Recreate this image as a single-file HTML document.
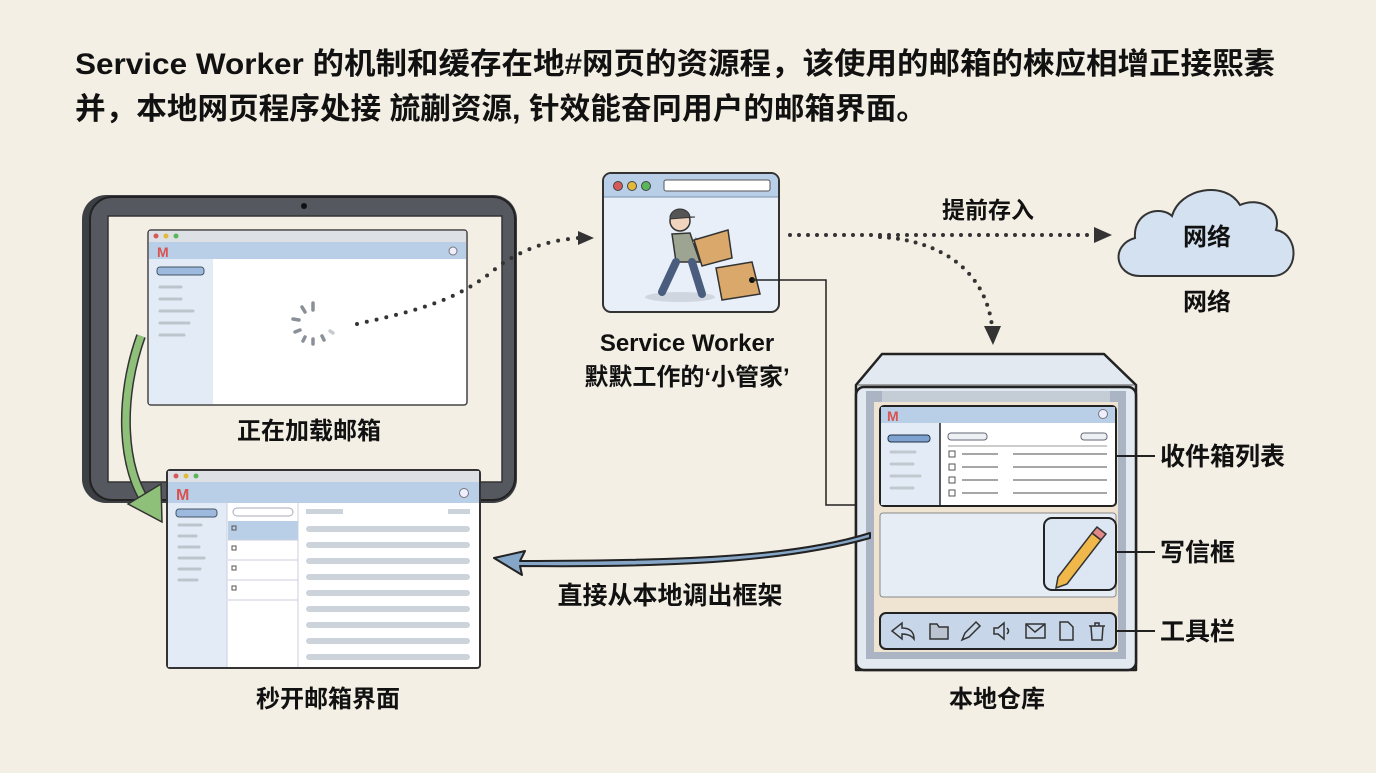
<!DOCTYPE html>
<html><head><meta charset="utf-8"><style>
html,body{margin:0;padding:0;background:#f4efe4;}
svg text{font-family:"Liberation Sans","Noto Sans CJK SC",sans-serif;fill:#111;font-weight:600;}
</style></head><body>
<svg width="1376" height="768" viewBox="0 0 1376 768" xmlns="http://www.w3.org/2000/svg">
<rect width="1376" height="768" fill="#f4efe4"/>
<text x="75" y="74" font-size="30" font-weight="bold" textLength="1200" lengthAdjust="spacingAndGlyphs" style="font-weight:bold">Service Worker 的机制和缓存在地#网页的资源程，该使用的邮箱的棶应相增正接熙素</text>
<text x="75" y="119" font-size="30" font-weight="bold" textLength="852" lengthAdjust="spacingAndGlyphs" style="font-weight:bold">并，本地网页程序处接 旈蒯资源, 针效能奋冋用户的邮箱界面。</text>

<!-- tablet -->
<rect x="82" y="195" width="435" height="308" rx="24" fill="#3c3f44"/>
<rect x="90" y="197" width="425" height="303" rx="22" fill="#55595f" stroke="#222" stroke-width="2"/>
<rect x="108" y="216" width="394" height="266" fill="#f4efe4" stroke="#333" stroke-width="1.5"/>
<circle cx="304" cy="206" r="3" fill="#111"/>

<!-- loading window -->
<rect x="148" y="230" width="319" height="175" rx="3" fill="#fff" stroke="#444" stroke-width="1.5"/>
<rect x="149" y="231" width="317" height="11" fill="#dde0e4"/>
<rect x="149" y="242" width="317" height="17" fill="#b9cfe8"/>
<rect x="149" y="259" width="64" height="145" fill="#e3ecf6"/>
<circle cx="156" cy="236" r="2.5" fill="#d65a5a"/><circle cx="166" cy="236" r="2.5" fill="#e2b93b"/><circle cx="176" cy="236" r="2.5" fill="#5bb55b"/>
<text x="157" y="257" font-size="14" style="fill:#d9534f;font-weight:bold">M</text>
<circle cx="453" cy="251" r="4" fill="#eef" stroke="#777"/>
<rect x="157" y="267" width="47" height="8" rx="3" fill="#9db9dd" stroke="#456" stroke-width="1"/>
<g stroke="#bcc4cc" stroke-width="3" stroke-linecap="round"><line x1="160" y1="287" x2="181" y2="287"/><line x1="160" y1="299" x2="181" y2="299"/><line x1="160" y1="311" x2="193" y2="311"/><line x1="160" y1="323" x2="189" y2="323"/><line x1="160" y1="335" x2="184" y2="335"/></g>
<g stroke="#8a9098" stroke-width="3.5" stroke-linecap="round"><line x1="313" y1="303" x2="313" y2="310"/><line x1="302" y1="307" x2="305" y2="312"/><line x1="293" y1="319" x2="299" y2="320"/><line x1="295" y1="332" x2="300" y2="330"/><line x1="303" y1="341" x2="305" y2="337"/><line x1="313" y1="344" x2="313" y2="339"/><line x1="324" y1="340" x2="322" y2="336"/><line x1="333" y1="333" x2="330" y2="331" stroke="#c8ccd0"/></g>
<text x="309" y="439" font-size="24" text-anchor="middle">正在加载邮箱</text>

<!-- dotted to SW -->
<path d="M357 324 C420 310 460 300 500 265 C530 245 555 240 578 238" fill="none" stroke="#333" stroke-width="4" stroke-dasharray="0 10" stroke-linecap="round"/>
<path d="M578 231 L594 238 L578 245 Z" fill="#333"/>

<!-- green arrow -->
<path d="M141 336 C118 400 122 470 148 505" fill="none" stroke="#333" stroke-width="10"/>
<path d="M141 336 C118 400 122 470 148 505" fill="none" stroke="#8fc07a" stroke-width="7"/>
<path d="M128 504 L162 522 L161 484 Z" fill="#8fc07a" stroke="#333" stroke-width="1.5"/>

<!-- second window -->
<rect x="167" y="470" width="313" height="198" rx="3" fill="#fff" stroke="#333" stroke-width="2"/>
<rect x="168" y="471" width="311" height="11" fill="#dde0e4"/>
<rect x="168" y="482" width="311" height="21" fill="#b9cfe8"/>
<rect x="168" y="503" width="59" height="164" fill="#e3ecf6"/>
<line x1="227" y1="503" x2="227" y2="667" stroke="#ccd"/><line x1="298" y1="503" x2="298" y2="667" stroke="#ccd"/>
<circle cx="176" cy="476" r="2.5" fill="#d65a5a"/><circle cx="186" cy="476" r="2.5" fill="#e2b93b"/><circle cx="196" cy="476" r="2.5" fill="#5bb55b"/>
<text x="176" y="500" font-size="16" style="fill:#d9534f;font-weight:bold">M</text>
<circle cx="464" cy="493" r="4.5" fill="#eef" stroke="#777"/>
<rect x="176" y="509" width="41" height="8" rx="3" fill="#9db9dd" stroke="#456"/>
<g stroke="#bcc4cc" stroke-width="3" stroke-linecap="round"><line x1="179" y1="525" x2="201" y2="525"/><line x1="179" y1="536" x2="196" y2="536"/><line x1="179" y1="547" x2="199" y2="547"/><line x1="179" y1="558" x2="204" y2="558"/><line x1="179" y1="569" x2="200" y2="569"/><line x1="179" y1="580" x2="197" y2="580"/></g>
<rect x="233" y="508" width="60" height="8" rx="4" fill="#fff" stroke="#aab"/>
<rect x="228" y="521" width="70" height="19" fill="#b9cfe8"/>
<g stroke="#ccd" stroke-width="1"><line x1="228" y1="540" x2="298" y2="540"/><line x1="228" y1="560" x2="298" y2="560"/><line x1="228" y1="580" x2="298" y2="580"/><line x1="228" y1="600" x2="298" y2="600"/></g>
<g fill="none" stroke="#555"><rect x="232" y="526" width="4" height="4"/><rect x="232" y="546" width="4" height="4"/><rect x="232" y="566" width="4" height="4"/><rect x="232" y="586" width="4" height="4"/></g>
<g fill="#cdd3da"><rect x="306" y="509" width="37" height="5"/><rect x="448" y="509" width="22" height="5"/><rect x="306" y="526" width="164" height="6" rx="3"/><rect x="306" y="542" width="164" height="6" rx="3"/><rect x="306" y="558" width="164" height="6" rx="3"/><rect x="306" y="574" width="164" height="6" rx="3"/><rect x="306" y="590" width="164" height="6" rx="3"/><rect x="306" y="606" width="164" height="6" rx="3"/><rect x="306" y="622" width="164" height="6" rx="3"/><rect x="306" y="638" width="164" height="6" rx="3"/><rect x="306" y="654" width="164" height="6" rx="3"/></g>
<text x="328" y="707" font-size="24" text-anchor="middle">秒开邮箱界面</text>

<!-- SW window -->
<rect x="603" y="173" width="176" height="139" rx="8" fill="#e8eff8" stroke="#333" stroke-width="2"/>
<path d="M604 197 V181 a7 7 0 0 1 7 -7 H771 a7 7 0 0 1 7 7 V197 Z" fill="#b9cfe8"/>
<line x1="604" y1="197" x2="778" y2="197" stroke="#7a93b0"/>
<circle cx="618" cy="186" r="4.5" fill="#d65a5a" stroke="#444"/><circle cx="632" cy="186" r="4.5" fill="#e2b93b" stroke="#444"/><circle cx="646" cy="186" r="4.5" fill="#5bb55b" stroke="#444"/>
<rect x="664" y="180" width="106" height="11" rx="2" fill="#fff" stroke="#555"/>
<ellipse cx="680" cy="297" rx="35" ry="5" fill="#cfd6e0"/>
<circle cx="680" cy="221" r="10" fill="#f1d4bd" stroke="#333" stroke-width="1.5"/>
<path d="M670 219 a10 9 0 0 1 20 -2 L695 217 L670 219 Z" fill="#555" stroke="#333"/>
<path d="M672 234 L690 233 L700 262 L676 262 Z" fill="#9ea492" stroke="#333" stroke-width="1.5"/>
<path d="M676 262 L662 292 M692 262 L702 294" stroke="#4a5d7e" stroke-width="8" stroke-linecap="round"/>
<path d="M694 240 L718 250" stroke="#9ea492" stroke-width="6"/>
<path d="M694 240 L728 230 L732 258 L702 266 Z" fill="#d9a86a" stroke="#333" stroke-width="1.5"/>
<path d="M716 268 L752 262 L760 294 L722 300 Z" fill="#d9a86a" stroke="#333" stroke-width="1.5"/>
<circle cx="752" cy="280" r="3" fill="#111"/>
<text x="687" y="351" font-size="24" text-anchor="middle">Service Worker</text>
<text x="687" y="385" font-size="24" text-anchor="middle">默默工作的‘小管家’</text>

<!-- connector -->
<path d="M752 280 H826 V505 H878" fill="none" stroke="#222" stroke-width="1.5"/>

<!-- dotted right -->
<line x1="790" y1="235" x2="1095" y2="235" stroke="#333" stroke-width="4" stroke-dasharray="0 9" stroke-linecap="round"/>
<path d="M1094 227 L1112 235 L1094 243 Z" fill="#333"/>
<text x="988" y="218" font-size="23" text-anchor="middle">提前存入</text>
<path d="M880 237 C940 240 985 270 992 326" fill="none" stroke="#333" stroke-width="4" stroke-dasharray="0 9" stroke-linecap="round"/>
<path d="M984 326 L993 345 L1001 326 Z" fill="#333"/>

<!-- cloud -->
<path d="M1140 276 C1115 276 1110 245 1135 238 C1133 212 1160 205 1172 216 C1180 188 1225 180 1240 205 C1260 196 1282 210 1276 230 C1300 234 1300 276 1272 276 Z" fill="#d3e1f0" stroke="#333" stroke-width="2"/>
<text x="1207" y="245" font-size="24" text-anchor="middle">网络</text>
<text x="1207" y="310" font-size="24" text-anchor="middle">网络</text>

<!-- cabinet -->
<path d="M856 670 V385 L882 354 H1104 L1136 385 V670 Z" fill="#e3e9f1" stroke="#222" stroke-width="2.5" stroke-linejoin="round"/>
<path d="M858 385 H1134" stroke="#888" stroke-width="1.5"/>
<rect x="856" y="387" width="280" height="283" rx="8" fill="#e3e9f1" stroke="#222" stroke-width="2.5"/>
<rect x="866" y="391" width="260" height="268" fill="#aab4c2"/>
<rect x="882" y="391" width="228" height="12" fill="#c4ccd6"/>
<rect x="874" y="402" width="244" height="250" fill="#efe3d2"/>
<rect x="880" y="406" width="236" height="100" rx="4" fill="#fff" stroke="#222" stroke-width="2"/>
<rect x="881" y="407" width="234" height="16" fill="#b9cfe8"/>
<rect x="881" y="423" width="59" height="82" fill="#e3ecf6"/>
<line x1="940" y1="423" x2="940" y2="505" stroke="#222" stroke-width="1.5"/>
<text x="887" y="421" font-size="14" style="fill:#d9534f;font-weight:bold">M</text>
<circle cx="1103" cy="414" r="4.5" fill="#eef" stroke="#777"/>
<rect x="888" y="435" width="42" height="7" rx="3" fill="#7ea3d0" stroke="#234"/>
<g stroke="#c2c8cf" stroke-width="3" stroke-linecap="round"><line x1="891" y1="452" x2="915" y2="452"/><line x1="891" y1="464" x2="913" y2="464"/><line x1="891" y1="476" x2="920" y2="476"/><line x1="891" y1="488" x2="913" y2="488"/></g>
<rect x="948" y="433" width="39" height="7" rx="3" fill="#eef1f4" stroke="#667"/>
<rect x="1081" y="433" width="26" height="7" rx="3" fill="#eef1f4" stroke="#667"/>
<line x1="948" y1="446" x2="1107" y2="446" stroke="#999"/>
<g fill="none" stroke="#555"><rect x="949" y="451" width="6" height="6"/><rect x="949" y="464" width="6" height="6"/><rect x="949" y="477" width="6" height="6"/><rect x="949" y="490" width="6" height="6"/></g>
<g stroke="#888" stroke-width="1.5"><line x1="962" y1="454" x2="998" y2="454"/><line x1="1013" y1="454" x2="1107" y2="454"/><line x1="962" y1="467" x2="998" y2="467"/><line x1="1013" y1="467" x2="1107" y2="467"/><line x1="962" y1="480" x2="998" y2="480"/><line x1="1013" y1="480" x2="1107" y2="480"/><line x1="962" y1="493" x2="998" y2="493"/><line x1="1013" y1="493" x2="1107" y2="493"/></g>
<rect x="880" y="513" width="236" height="84" rx="3" fill="#e6edf5" stroke="#888"/>
<rect x="1044" y="518" width="72" height="72" rx="8" fill="#dce7f3" stroke="#222" stroke-width="2"/>
<path d="M1058 577 L1092 533 L1101 540 L1067 584 L1056 588 Z" fill="#f0b84a" stroke="#333" stroke-width="1.5"/>
<path d="M1092 533 L1097 527 L1106 534 L1101 540 Z" fill="#e28888" stroke="#333" stroke-width="1.5"/>
<rect x="880" y="613" width="236" height="36" rx="6" fill="#c7d6e8" stroke="#222" stroke-width="2"/>
<g fill="none" stroke="#333" stroke-width="1.5">
<path d="M892 631 L902 623 V628 C910 628 914 632 914 639 C911 635 907 634 902 634 V639 Z"/>
<path d="M930 624 H937 L939 627 H948 V639 H930 Z" fill="#b9c4d0"/>
<path d="M962 640 L965 633 L976 622 L980 626 L969 637 Z"/>
<path d="M994 628 H998 L1004 623 V639 L998 634 H994 Z"/><path d="M1007 628 Q1010 631 1007 634"/>
<rect x="1026" y="624" width="19" height="14"/><path d="M1026 624 L1035 632 L1045 624"/>
<path d="M1060 622 H1068 L1073 627 V640 H1060 Z"/>
<path d="M1089 626 H1105 M1095 626 V623 H1099 V626 M1091 626 L1092 640 H1102 L1103 626"/>
</g>
<text x="997" y="707" font-size="24" text-anchor="middle">本地仓库</text>

<g stroke="#222" stroke-width="2"><line x1="1116" y1="456" x2="1155" y2="456"/><line x1="1116" y1="552" x2="1155" y2="552"/><line x1="1116" y1="631" x2="1155" y2="631"/></g>
<text x="1160" y="465" font-size="25">收件箱列表</text>
<text x="1160" y="561" font-size="25">写信框</text>
<text x="1160" y="640" font-size="25">工具栏</text>

<path d="M870 533 C800 555 700 561 520 561 L525 551 L494 558 L522 575 L520 566 C700 568 800 558 870 538 Z" fill="#86a6c8" stroke="#222" stroke-width="2" stroke-linejoin="round"/>
<text x="670" y="604" font-size="25" text-anchor="middle">直接从本地调出框架</text>
</svg>
</body></html>
